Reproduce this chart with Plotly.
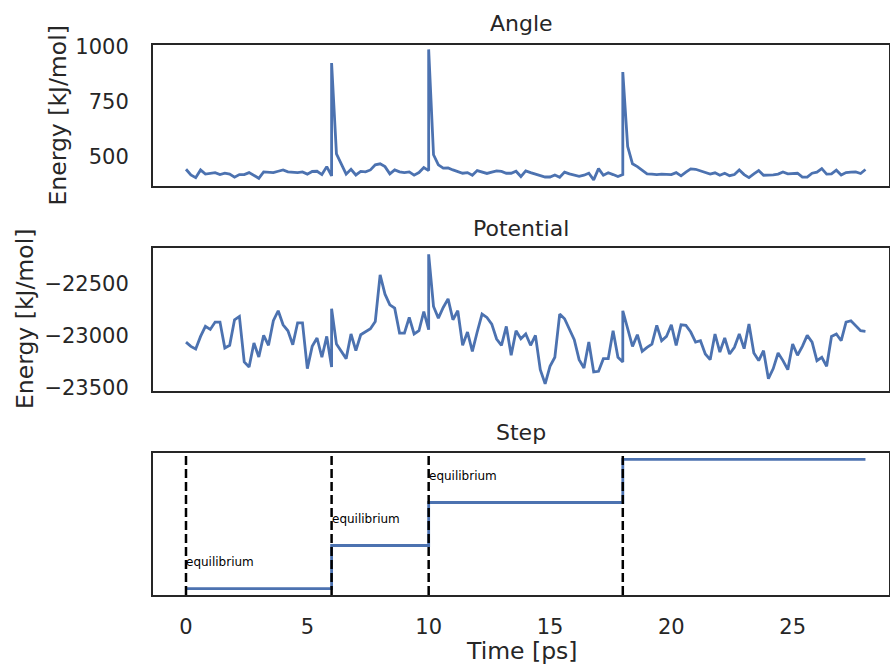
import numpy as np
import plotly.graph_objects as go

# ---------------- data ----------------
seg_starts = [0, 6, 10, 18]
seg_ends = [6, 10, 18, 28]
seg_levels = [0, 1, 2, 3]
seg_labels = ["equilibrium", "equilibrium", "equilibrium", "equilibrium"]
dt = 0.2

angle_seg1 = [443, 417, 405, 440, 421, 425, 428, 419, 425, 421,
              407, 419, 419, 428, 416, 402, 431, 428, 428, 434,
              440, 431, 428, 428, 431, 421, 433, 434, 419, 455, 413]
angle_seg2 = [926, 513, 468, 421, 443, 417, 433, 431, 440, 463,
              468, 455, 422, 440, 431, 428, 431, 416, 428, 451, 437]
angle_seg3 = [988, 509, 463, 448, 449, 440, 431, 425, 428, 416,
              437, 431, 424, 430, 436, 433, 425, 425, 434, 410,
              436, 428, 421, 413, 408, 408, 417, 407, 430, 422,
              416, 411, 416, 425, 395, 446, 416, 427, 419, 410, 419]
angle_seg4 = [885, 547, 468, 455, 440, 422, 421, 419, 421, 421,
              419, 428, 413, 430, 445, 443, 436, 430, 421, 427,
              416, 425, 414, 419, 440, 419, 405, 422, 437, 416,
              416, 418, 421, 431, 422, 424, 425, 407, 407, 425,
              430, 446, 421, 422, 439, 417, 428, 430, 431, 424, 442]

pot_seg1 = [-23062, -23103, -23128, -23008, -22912, -22941, -22871, -22871, -23119, -23093,
            -22849, -22817, -23252, -23300, -23071, -23204, -22998, -23093, -22858, -22763,
            -22897, -22954, -23087, -22878, -22878, -23315, -23103, -23023, -23207, -23008, -23300]
pot_seg2 = [-22744, -23081, -23150, -23220, -22985, -23144, -22992, -22966, -22935, -22865,
            -22421, -22605, -22706, -22738, -22976, -22976, -22827, -22985, -22954, -22770, -22944]
pot_seg3 = [-22224, -22722, -22833, -22732, -22649, -22849, -22763, -23093, -22966, -23150,
            -22966, -22795, -22827, -22890, -23033, -23093, -22912, -23188, -22954, -23030,
            -22985, -23093, -22998, -23325, -23461, -23293, -23207, -22795, -22839, -22944,
            -23039, -23230, -23309, -23062, -23347, -23341, -23220, -23220, -22954, -23207, -23252]
pot_seg4 = [-22763, -22928, -23103, -22992, -23150, -23112, -23081, -22903, -23049, -23008,
            -22897, -23093, -22897, -22903, -22966, -23062, -23049, -23176, -23230, -22985,
            -23157, -23023, -23176, -23112, -22985, -23125, -22890, -23166, -23239, -23144,
            -23411, -23315, -23166, -23239, -23325, -23081, -23188, -23103, -22998, -23062,
            -23239, -23207, -23293, -23008, -22985, -23049, -22871, -22858, -22903, -22954, -22960]

x_tickvals = [0, 5, 10, 15, 20, 25]
angle_tickvals = [500, 750, 1000]
angle_ticktext = ["500", "750", "1000"]
pot_tickvals = [-23500, -23000, -22500]
pot_ticktext = ["\u221223500", "\u221223000", "\u221222500"]

# ---------------- build series ----------------
angle_segs = [angle_seg1, angle_seg2, angle_seg3, angle_seg4]
pot_segs = [pot_seg1, pot_seg2, pot_seg3, pot_seg4]

time, angle, pot, step = [], [], [], []
for s, e, lvl, a, p in zip(seg_starts, seg_ends, seg_levels, angle_segs, pot_segs):
    t = np.round(np.arange(s, e + dt / 2, dt), 3)
    time.extend(t.tolist())
    angle.extend(a)
    pot.extend(p)
    step.extend([lvl] * len(t))

W, H = 890, 666
def px(x):
    return x / W
def py(y):
    return 1 - y / H

BLUE = "#4C72B0"
DARK = "#262626"
FONT = "DejaVu Sans"

fig = go.Figure()
fig.add_trace(go.Scatter(x=time, y=angle, mode="lines", line=dict(color=BLUE, width=2.8),
                         xaxis="x", yaxis="y", showlegend=False))
fig.add_trace(go.Scatter(x=time, y=pot, mode="lines", line=dict(color=BLUE, width=2.8),
                         xaxis="x2", yaxis="y2", showlegend=False))
fig.add_trace(go.Scatter(x=time, y=step, mode="lines", line=dict(color=BLUE, width=2.8),
                         xaxis="x3", yaxis="y3", showlegend=False))

xdom = [px(153), px(889)]
xrange_ = [-1.36, 28.97]
axis_common = dict(showline=True, mirror=True, linecolor=DARK, linewidth=2,
                   showgrid=False, zeroline=False, ticks="", automargin=False,
                   tickfont=dict(family=FONT, size=21, color=DARK))

fig.update_layout(
    template="none",
    width=W, height=H, autosize=False,
    margin=dict(l=0, r=0, t=0, b=0, pad=0),
    paper_bgcolor="white", plot_bgcolor="white",
    xaxis=dict(domain=xdom, range=xrange_, anchor="y", showticklabels=False, **axis_common),
    yaxis=dict(domain=[py(186), py(45)], range=[367, 1008], anchor="x",
               tickvals=angle_tickvals, ticktext=angle_ticktext, ticklabelstandoff=18, **axis_common),
    xaxis2=dict(domain=xdom, range=xrange_, anchor="y2", showticklabels=False, **axis_common),
    yaxis2=dict(domain=[py(391), py(248)], range=[-23529, -22164], anchor="x2",
                tickvals=pot_tickvals, ticktext=pot_ticktext, ticklabelstandoff=18, **axis_common),
    xaxis3=dict(domain=xdom, range=xrange_, anchor="y3", tickvals=x_tickvals,
                ticklabelstandoff=12, **axis_common),
    yaxis3=dict(domain=[py(595), py(453)], range=[-0.15, 3.15], anchor="x3",
                showticklabels=False, **axis_common),
)

# vertical dashed lines + labels
for s, lvl, lab in zip(seg_starts, seg_levels, seg_labels):
    fig.add_shape(type="line", xref="x3", yref="y3 domain", x0=s, x1=s, y0=0, y1=1,
                  line=dict(color="black", width=2.5, dash="9px,4px"), layer="above")
    fig.add_annotation(x=s, y=lvl + 0.5, xref="x3", yref="y3", text=lab, showarrow=False,
                       xanchor="left", yanchor="bottom", yshift=-4, xshift=-2,
                       font=dict(family=FONT, size=12, color="black"))

# subplot titles
for title, yc in [("Angle", 24), ("Potential", 229), ("Step", 433)]:
    fig.add_annotation(x=px(521), y=py(yc), xref="paper", yref="paper", text=title,
                       showarrow=False, xanchor="center", yanchor="middle",
                       font=dict(family=FONT, size=22, color=DARK))

# axis labels
fig.add_annotation(x=px(57.5), y=py(116), xref="paper", yref="paper", text="Energy [kJ/mol]",
                   textangle=-90, showarrow=False, xanchor="center", yanchor="middle",
                   font=dict(family=FONT, size=23.5, color=DARK))
fig.add_annotation(x=px(25), y=py(319), xref="paper", yref="paper", text="Energy [kJ/mol]",
                   textangle=-90, showarrow=False, xanchor="center", yanchor="middle",
                   font=dict(family=FONT, size=23.5, color=DARK))
fig.add_annotation(x=px(521), y=py(651), xref="paper", yref="paper", text="Time [ps]",
                   showarrow=False, xanchor="center", yanchor="middle",
                   font=dict(family=FONT, size=23.5, color=DARK))

fig.write_html("out.html")
